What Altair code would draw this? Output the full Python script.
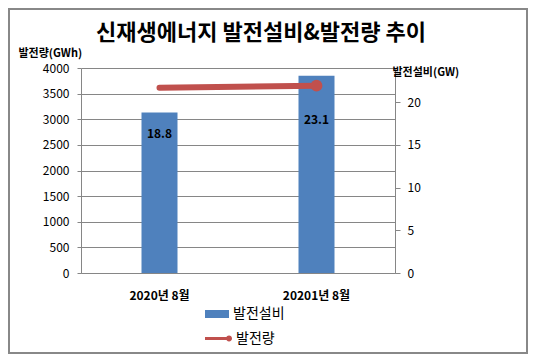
import altair as alt
import pandas as pd

title_text = "신재생에너지 발전설비&발전량 추이"
categories = ["2020년 8월", "20201년 8월"]
capacity_gw = [18.8, 23.1]          # 발전설비 (bars, right axis)
generation_gwh = [3615, 3655]       # 발전량 (line, left axis)
series_names = ["발전설비", "발전량"]
left_title = "발전량(GWh)"
right_title = "발전설비(GW)"
left_ticks = [0, 500, 1000, 1500, 2000, 2500, 3000, 3500, 4000]
right_ticks = [0, 5, 10, 15, 20]

df = pd.DataFrame({"category": categories, "capacity": capacity_gw, "generation": generation_gwh})

FONT = "Noto Sans CJK KR"
GRAY = "#868686"
BLUE = "#4F81BD"
RED = "#C0504D"
W, H = 314, 205

x_enc = alt.X(
    "category:N", sort=categories,
    scale=alt.Scale(paddingInner=0, paddingOuter=0),
    axis=alt.Axis(title=None, labelAngle=0, ticks=False, tickSize=0, labelPadding=17,
                  labelFontSize=12, labelFontWeight="bold", labelColor="black",
                  domainColor=GRAY, grid=False),
)

y_right = alt.Y(
    "capacity:Q",
    scale=alt.Scale(domain=[0, 24], nice=False, zero=True),
    axis=alt.Axis(orient="right", values=right_ticks, grid=False, title=right_title,
                  titleAngle=0, titleAlign="left", titleBaseline="middle",
                  titleX=-3, titleY=4, titleFontSize=11, titleFontWeight="bold",
                  titleColor="black", tickSize=5, tickColor=GRAY, domainColor=GRAY,
                  labelPadding=7, labelFontSize=12, labelColor="black", format="d"),
)

y_left = alt.Y(
    "generation:Q",
    scale=alt.Scale(domain=[0, 4000], nice=False, zero=True),
    axis=alt.Axis(orient="left", values=left_ticks, grid=True, gridColor=GRAY,
                  gridOpacity=1, title=left_title, titleAngle=0, titleAlign="left",
                  titleBaseline="middle", titleX=-63, titleY=-15, titleFontSize=11,
                  titleFontWeight="bold", titleColor="black", tickSize=4,
                  tickColor=GRAY, domainColor=GRAY, labelPadding=8,
                  labelFontSize=12, labelColor="black", format="d"),
)

base = alt.Chart(df)

bars = base.mark_bar(width=36).encode(
    x=x_enc, y=y_right,
    color=alt.Color("s:N", scale=alt.Scale(domain=[series_names[0]], range=[BLUE]),
                    legend=alt.Legend(orient="none", legendX=124, legendY=234, title=None,
                                      symbolType="M-1,-0.333H1V0.333H-1Z", symbolSize=576,
                                      symbolStrokeWidth=0, labelFontSize=14, labelOffset=4,
                                      labelColor="black", padding=0)),
).transform_calculate(s=f"'{series_names[0]}'")

label_first = base.mark_text(fontSize=12, fontWeight="bold", color="black",
                             baseline="middle", dy=22).encode(
    x=x_enc, y=y_right, text=alt.Text("capacity:Q", format=".1f")
).transform_filter(alt.datum.category == categories[0])

label_second = base.mark_text(fontSize=12, fontWeight="bold", color="black",
                              baseline="middle", dy=44).encode(
    x=x_enc, y=y_right, text=alt.Text("capacity:Q", format=".1f")
).transform_filter(alt.datum.category == categories[1])

bar_layer = alt.layer(bars, label_first, label_second)

line = base.mark_line(color=RED, strokeWidth=6, strokeCap="round").encode(
    x=x_enc, y=y_left
)
dot = base.mark_circle(size=140, opacity=1).encode(
    x=x_enc, y=y_left,
    color=alt.Color("s:N", scale=alt.Scale(domain=[series_names[1]], range=[RED]),
                    legend=alt.Legend(orient="none", legendX=124, legendY=257, title=None,
                                      symbolType="M-1,-0.11H0.78V0.11H-1Z M0.56,0A0.22,0.22 0 1,1 1.0,0A0.22,0.22 0 1,1 0.56,0Z",
                                      symbolSize=729, symbolStrokeWidth=0, symbolOpacity=1,
                                      labelFontSize=14, labelOffset=4,
                                      labelColor="black", padding=0)),
).transform_calculate(s=f"'{series_names[1]}'").transform_filter(
    alt.datum.category == categories[-1])

line_layer = alt.layer(line, dot)

title_mark = alt.Chart(pd.DataFrame({"t": [title_text]})).mark_text(
    fontSize=22, fontWeight="bold", color="black", align="center", baseline="middle"
).encode(text="t:N", x=alt.value(180), y=alt.value(-35))

frame = alt.Chart(pd.DataFrame({"b": [0]})).mark_rect(
    fillOpacity=0, stroke="#888888", strokeWidth=2
).encode(x=alt.value(-72), x2=alt.value(446), y=alt.value(-59), y2=alt.value(285))

chart = alt.layer(frame, bar_layer, line_layer, title_mark).resolve_scale(
    y="independent", color="independent"
).properties(
    width=W, height=H, autosize="none",
    padding={"left": 73, "top": 60, "right": 133, "bottom": 81},
).configure(font=FONT, background="white").configure_view(strokeWidth=0)

chart.save("out.html", embed_options={"renderer": "svg", "actions": False})
